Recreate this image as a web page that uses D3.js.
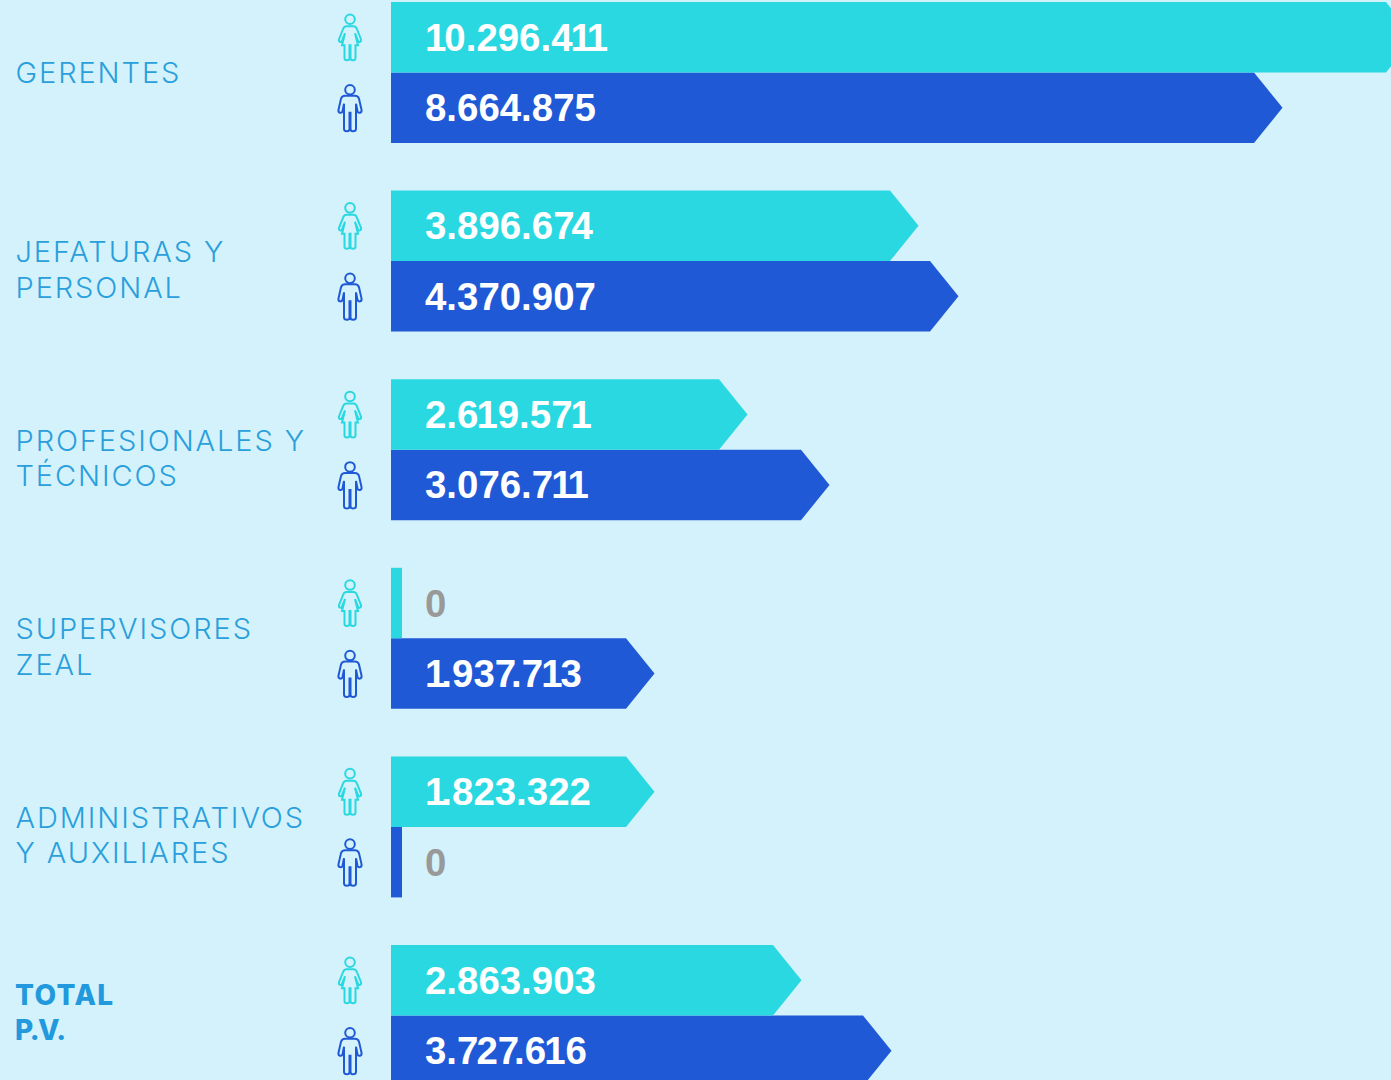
<!DOCTYPE html>
<html>
<head>
<meta charset="utf-8">
<script src="https://cdn.jsdelivr.net/npm/d3@7"></script>
<style>
  html, body { margin: 0; padding: 0; background: #d3f2fb; }
  svg { display: block; }
</style>
</head>
<body>
<div id="chart"></div>
<script>
const categories = ["GERENTES", "JEFATURAS Y PERSONAL", "PROFESIONALES Y TÉCNICOS", "SUPERVISORES ZEAL", "ADMINISTRATIVOS Y AUXILIARES", "TOTAL P.V."];
const categoryLines = [["GERENTES"], ["JEFATURAS Y", "PERSONAL"], ["PROFESIONALES Y", "TÉCNICOS"], ["SUPERVISORES", "ZEAL"], ["ADMINISTRATIVOS", "Y AUXILIARES"], ["TOTAL", "P.V."]];
const mujeres = [10296411, 3896674, 2619571, 0, 1823322, 2863903];
const hombres = [8664875, 4370907, 3076711, 1937713, 0, 3727616];

const width = 1391, height = 1080;
const fmt = d3.format(",d");
const label = v => fmt(v).replace(/,/g, ".");

// the bars in the original are not to scale, so the scale is piecewise
const xDomain = [0, 1823322, 1937713, 2619571, 2863903, 3076711, 3727616, 3896674, 4370907, 8664875, 10296411];
const xRange = [402, 626, 626, 719, 773, 801, 863, 890, 930, 1254, 1386];
const x = d3.scaleLinear().domain(xDomain).range(xRange);

const y0 = d3.scaleBand().domain(categories).range([2, 1086]).paddingInner(0.2524).paddingOuter(0);
const y1 = d3.scaleBand().domain(["m", "h"]).range([0, y0.bandwidth()]);

const colors = { m: "#29d8e1", h: "#2059d6" };
const barLeft = 391, tip = 28.5;

// tight letter pairs of the original typeface
const kern = { "1.": -5, "7.": -5, "11": -3, "71": -2, "61": -2, "10": -2, "41": -2, "74": -3, "72": -2, "13": -2, "P.": -4, ".V": -3, "V.": -2 };
const kernList = s => s.split("").map((c, i) => kern[s[i - 1] + c] || 0).join(" ");

const svg = d3.select("#chart").append("svg")
    .attr("width", width)
    .attr("height", height);

svg.append("rect")
    .attr("width", width)
    .attr("height", height)
    .attr("fill", "#d3f2fb");

const womanPath = "M-3.5,-11 L3.5,-11 Q6,-11 7,-8 L11,2 Q11.5,4 10,4.5 Q8.5,5 8,3.5 L5,-4 L8,8 L5.5,8 L5.5,21 Q5.5,23 3,23 Q0.5,23 0.5,21 L0.5,8 L-0.5,8 L-0.5,21 Q-0.5,23 -3,23 Q-5.5,23 -5.5,21 L-5.5,8 L-8,8 L-5,-4 L-8,3.5 Q-8.5,5 -10,4.5 Q-11.5,4 -11,2 L-7,-8 Q-6,-11 -3.5,-11 Z";
const manPath = "M-5,-12 L5,-12 Q8,-12 9,-9 L11.5,2 Q12,4.5 10,5 Q8,5.5 7.5,3.5 L6,-4 L6,21 Q6,23.5 3,23.5 Q0.5,23.5 0.5,21 L0.5,5 L-0.5,5 L-0.5,21 Q-0.5,23.5 -3,23.5 Q-6,23.5 -6,21 L-6,-4 L-7.5,3.5 Q-8,5.5 -10,5 Q-12,4.5 -11.5,2 L-9,-9 Q-8,-12 -5,-12 Z";

function barPath(v, top, h) {
    const end = x(v);
    const p = d3.path();
    p.moveTo(barLeft, top);
    p.lineTo(end, top);
    if (v > 0) p.lineTo(end + tip, top + h / 2);
    p.lineTo(end, top + h);
    p.lineTo(barLeft, top + h);
    p.closePath();
    return p.toString();
}

const rows = categories.map((c, i) => ({ cat: c, lines: categoryLines[i], m: mujeres[i], h: hombres[i], i: i }));

const groups = svg.selectAll("g.grupo")
    .data(rows)
    .join("g")
    .attr("class", "grupo")
    .attr("transform", d => `translate(0,${y0(d.cat)})`);

["h", "m"].forEach(k => {
    const row = groups.append("g").attr("class", "serie-" + k);

    row.append("path")
        .attr("d", d => barPath(d[k], y1(k), y1.bandwidth()))
        .attr("fill", colors[k]);

    row.append("text")
        .attr("x", 425)
        .attr("y", y1(k) + y1.bandwidth() / 2 + 13.5)
        .attr("dx", d => kernList(label(d[k])))
        .attr("font-family", "'Liberation Sans', sans-serif")
        .attr("font-weight", 700)
        .attr("font-size", 38.4)
        .attr("fill", d => d[k] > 0 ? "#ffffff" : "#999999")
        .text(d => label(d[k]));

    const icon = row.append("g")
        .attr("transform", `translate(350,${y1(k) + y1.bandwidth() / 2})`)
        .attr("fill", "none")
        .attr("stroke", colors[k])
        .attr("stroke-width", 2);
    icon.append("circle").attr("cx", 0).attr("cy", -18).attr("r", 4.8);
    icon.append("path").attr("d", k === "m" ? womanPath : manPath);
});

groups.each(function(d) {
    const total = d.cat === "TOTAL P.V.";
    const base = y0.bandwidth() / 2 + (d.lines.length === 1 ? 10.5 : total ? -10.5 : 1);
    d3.select(this).selectAll("text.cat")
        .data(d.lines)
        .join("text")
        .attr("class", "cat")
        .attr("x", total ? 15 : 15.5)
        .attr("y", (t, j) => base + j * 35.5)
        .attr("dx", t => kernList(t))
        .attr("font-family", "Inter, sans-serif")
        .attr("font-weight", total ? 800 : 300)
        .attr("font-size", total ? 28 : 29)
        .attr("letter-spacing", total ? 1.4 : 1.9)
        .attr("fill", total ? "#2299dd" : "#2a9fdc")
        .text(t => t);
});
</script>
</body>
</html>
